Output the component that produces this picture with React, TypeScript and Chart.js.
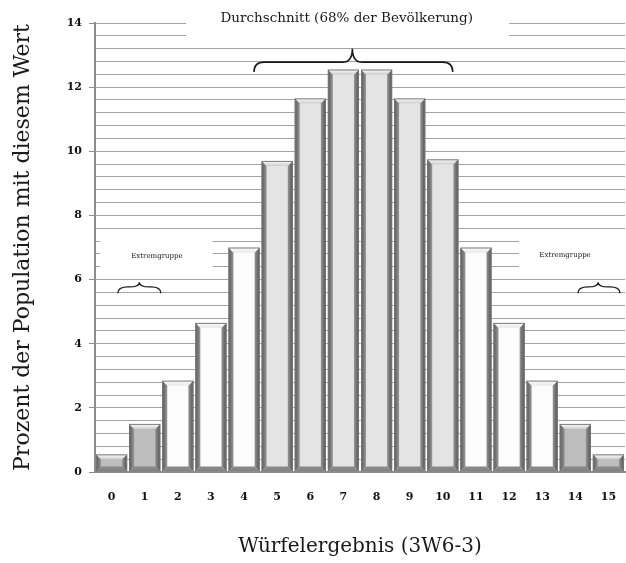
import React, { useEffect, useRef } from "react";
import { Chart, registerables } from "chart.js";

Chart.register(...registerables);

const categories = ["0","1","2","3","4","5","6","7","8","9","10","11","12","13","14","15"];
const percentValues = [0.55, 1.5, 2.85, 4.65, 7.0, 9.7, 11.65, 12.55, 12.55, 11.65, 9.75, 7.0, 4.65, 2.85, 1.5, 0.55];
const barGroups = ["extreme","extreme","mid","mid","mid","avg","avg","avg","avg","avg","avg","mid","mid","mid","extreme","extreme"];
const groupColors: Record<string, string> = { extreme: "#bdbdbd", mid: "#fcfcfc", avg: "#e4e4e4" };
const gridValues: number[] = Array.from({ length: 36 }, (_, i) => Math.round(i * 0.4 * 10) / 10);
const yTitle = "Prozent der Population mit diesem Wert";
const xTitle = "Würfelergebnis (3W6-3)";
const averageLabel = "Durchschnitt (68% der Bevölkerung)";
const extremeLabel = "Extremgruppe";

const FONT = "'DejaVu Serif', 'Liberation Serif', serif";

function drawBrace(ctx: CanvasRenderingContext2D, x1: number, x2: number, xm: number, yEnd: number, yFlat: number, yTip: number, lw: number) {
  const r = Math.min(10, (yEnd - yFlat) * 1.2 + 4);
  ctx.save();
  ctx.strokeStyle = "#1a1a1a";
  ctx.lineWidth = lw;
  ctx.beginPath();
  ctx.moveTo(x1, yEnd);
  ctx.quadraticCurveTo(x1, yFlat, x1 + r, yFlat);
  ctx.lineTo(xm - r, yFlat);
  ctx.quadraticCurveTo(xm, yFlat, xm, yTip);
  ctx.quadraticCurveTo(xm, yFlat, xm + r, yFlat);
  ctx.lineTo(x2 - r, yFlat);
  ctx.quadraticCurveTo(x2, yFlat, x2, yEnd);
  ctx.stroke();
  ctx.restore();
}

const bevelPlugin = {
  id: "bevel",
  afterDatasetsDraw(chart: any) {
    const ctx: CanvasRenderingContext2D = chart.ctx;
    const meta = chart.getDatasetMeta(0);
    meta.data.forEach((bar: any, i: number) => {
      const { x, y, base, width } = bar.getProps(["x", "y", "base", "width"], true);
      const l = x - width / 2, r = x + width / 2, t = y, b = base;
      const face = groupColors[barGroups[i]];
      const bv = Math.min(5, (b - t) / 2);
      ctx.save();
      let g = ctx.createLinearGradient(l, 0, l + bv, 0);
      g.addColorStop(0, "#555555");
      g.addColorStop(1, "#999999");
      ctx.fillStyle = g;
      ctx.beginPath();
      ctx.moveTo(l, t); ctx.lineTo(l + bv, t + bv); ctx.lineTo(l + bv, b - bv); ctx.lineTo(l, b); ctx.closePath(); ctx.fill();
      g = ctx.createLinearGradient(r - bv, 0, r, 0);
      g.addColorStop(0, "#969696");
      g.addColorStop(1, "#505050");
      ctx.fillStyle = g;
      ctx.beginPath();
      ctx.moveTo(r, t); ctx.lineTo(r - bv, t + bv); ctx.lineTo(r - bv, b - bv); ctx.lineTo(r, b); ctx.closePath(); ctx.fill();
      g = ctx.createLinearGradient(0, t, 0, t + bv);
      g.addColorStop(0, "#ffffff");
      g.addColorStop(1, face === "#fcfcfc" ? "#e6e6e6" : "#cccccc");
      ctx.fillStyle = g;
      ctx.beginPath();
      ctx.moveTo(l, t); ctx.lineTo(r, t); ctx.lineTo(r - bv, t + bv); ctx.lineTo(l + bv, t + bv); ctx.closePath(); ctx.fill();
      ctx.fillStyle = "#888888";
      ctx.beginPath();
      ctx.moveTo(l, b); ctx.lineTo(r, b); ctx.lineTo(r - bv, b - bv); ctx.lineTo(l + bv, b - bv); ctx.closePath(); ctx.fill();
      ctx.strokeStyle = "#777777";
      ctx.lineWidth = 1;
      ctx.strokeRect(l + 0.5, t + 0.5, width - 1, b - t - 1);
      ctx.restore();
    });
  },
};

const annotationPlugin = {
  id: "annotations",
  beforeDatasetsDraw(chart: any) {
    const ctx: CanvasRenderingContext2D = chart.ctx;
    const xs = chart.scales.x, ys = chart.scales.y;
    const px = (v: number) => xs.getPixelForValue(v);
    const py = (v: number) => ys.getPixelForValue(v);
    ctx.save();
    ctx.fillStyle = "#ffffff";
    ctx.fillRect(px(2.25), 0, px(12.0) - px(2.25), py(13.4));
    ctx.fillRect(px(-0.35), py(7.4), px(3.05) - px(-0.35), py(6.2) - py(7.4));
    ctx.fillRect(px(12.3), py(7.4), chart.chartArea.right + 2 - px(12.3), py(6.2) - py(7.4));
    ctx.restore();
  },
  afterDatasetsDraw(chart: any) {
    const ctx: CanvasRenderingContext2D = chart.ctx;
    const xs = chart.scales.x, ys = chart.scales.y;
    const px = (v: number) => xs.getPixelForValue(v);
    const py = (v: number) => ys.getPixelForValue(v);
    ctx.save();
    ctx.fillStyle = "#1a1a1a";
    ctx.textAlign = "center";
    ctx.textBaseline = "middle";
    ctx.font = `13.5px ${FONT}`;
    ctx.fillText(averageLabel, px(7.1), py(14.15));
    ctx.font = `7px ${FONT}`;
    ctx.fillText(extremeLabel, px(1.37), py(6.73));
    ctx.fillText(extremeLabel, px(13.69), py(6.77));
    ctx.restore();
    drawBrace(ctx, px(4.3), px(10.3), px(7.27), py(12.47), py(12.78), py(13.2), 1.6);
    drawBrace(ctx, px(0.19), px(1.49), px(0.84), py(5.57), py(5.77), py(5.92), 1.3);
    drawBrace(ctx, px(14.08), px(15.35), px(14.69), py(5.57), py(5.77), py(5.92), 1.3);
  },
};

export default function App() {
  const ref = useRef<HTMLCanvasElement | null>(null);
  useEffect(() => {
    if (!ref.current) return;
    const isMajor = (v: number) => Math.abs(v / 2 - Math.round(v / 2)) < 1e-6;
    const chart = new Chart(ref.current, {
      type: "bar",
      data: {
        labels: categories,
        datasets: [
          {
            data: percentValues,
            backgroundColor: barGroups.map((g) => groupColors[g]),
            borderWidth: 0,
            barPercentage: 0.94,
            categoryPercentage: 1.0,
          },
        ],
      },
      options: {
        animation: false,
        responsive: false,
        maintainAspectRatio: false,
        layout: { padding: { top: 23, right: 1, left: 0, bottom: 0 } },
        plugins: { legend: { display: false }, tooltip: { enabled: false } },
        scales: {
          x: {
            grid: { display: false, drawTicks: true, tickLength: 16, tickColor: "rgba(0,0,0,0)" },
            border: { display: true, color: "#8c8c8c", width: 2 },
            ticks: { color: "#111", font: { family: FONT, size: 11, weight: "bold" }, padding: 3 },
            title: { display: true, text: xTitle, color: "#1a1a1a", font: { family: FONT, size: 20 }, padding: { top: 0, bottom: 4 } },
            afterFit: (s: any) => { s.height = 91; },
          },
          y: {
            min: 0,
            max: 14,
            afterBuildTicks: (s: any) => { s.ticks = gridValues.map((v) => ({ value: v })); },
            grid: {
              color: "#a3a3a3",
              lineWidth: 1,
              tickLength: 6,
              tickColor: (c: any) => (isMajor(c.tick?.value ?? 0) ? "#8c8c8c" : "rgba(0,0,0,0)"),
            },
            border: { display: true, color: "#8c8c8c", width: 2 },
            ticks: {
              autoSkip: false,
              color: "#111",
              padding: 7,
              font: { family: FONT, size: 11, weight: "bold" },
              callback: (v: any) => (isMajor(Number(v)) ? String(Math.round(Number(v))) : ""),
            },
            title: { display: true, text: yTitle, color: "#1a1a1a", font: { family: FONT, size: 22 }, padding: { top: 10, bottom: 0 } },
            afterFit: (s: any) => { s.width = 95; },
          },
        },
      },
      plugins: [annotationPlugin, bevelPlugin],
    });
    return () => chart.destroy();
  }, []);
  return (
    <div style={{ position: "fixed", left: 0, top: 0, width: 626, height: 563, background: "#fff" }}>
      <canvas ref={ref} width={626} height={563} style={{ width: 626, height: 563 }} />
    </div>
  );
}
